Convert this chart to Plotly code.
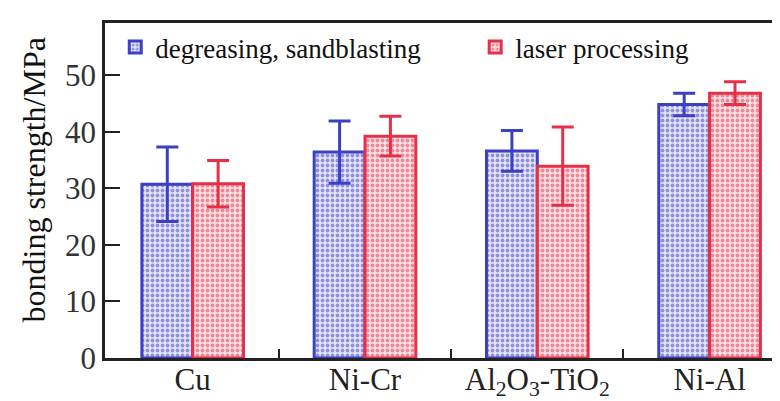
import plotly.graph_objects as go

categories = ["Cu", "Ni-Cr", "Al<sub>2</sub>O<sub>3</sub>-TiO<sub>2</sub>", "Ni-Al"]
degrease_vals = [30.7, 36.4, 36.6, 44.8]
degrease_err = [6.6, 5.5, 3.6, 2.0]
laser_vals = [30.8, 39.2, 33.9, 46.8]
laser_err = [4.1, 3.5, 6.9, 2.0]
y_ticks = [0, 10, 20, 30, 40, 50]

BLUE = "#3d40c2"
RED = "#e6304a"
SERIF = "Liberation Serif"

xpos = list(range(len(categories)))

fig = go.Figure()
fig.add_trace(go.Bar(
    x=xpos, y=degrease_vals, name="degreasing, sandblasting", legend="legend",
    error_y=dict(type="data", array=degrease_err, color=BLUE, thickness=3, width=11),
    marker=dict(color="white", line=dict(color=BLUE, width=3),
                pattern=dict(shape=".", fgcolor=BLUE, bgcolor="#e4e4f6", size=5, solidity=0.45)),
))
fig.add_trace(go.Bar(
    x=xpos, y=laser_vals, name="laser processing", legend="legend2",
    error_y=dict(type="data", array=laser_err, color=RED, thickness=3, width=11),
    marker=dict(color="white", line=dict(color=RED, width=3),
                pattern=dict(shape=".", fgcolor=RED, bgcolor="#f8e1e4", size=5, solidity=0.45)),
))

legend_font = dict(family=SERIF, size=27, color="#111111")
fig.update_layout(
    width=780, height=401,
    margin=dict(l=97, r=0, t=15, b=51),
    paper_bgcolor="white", plot_bgcolor="white",
    barmode="group", bargap=0.41, bargroupgap=0,
    font=dict(family=SERIF, color="#222222"),
    showlegend=True,
    legend=dict(x=0.015, y=1.0, xanchor="left", yanchor="top",
                font=legend_font, bgcolor="rgba(0,0,0,0)"),
    legend2=dict(x=0.542, y=1.0, xanchor="left", yanchor="top",
                 font=legend_font, bgcolor="rgba(0,0,0,0)"),
    xaxis=dict(range=[-0.509, 3.455], tickvals=xpos, ticktext=categories,
               ticks="", showline=True, linecolor="#222222", linewidth=2.5, mirror=True,
               showgrid=False, zeroline=False, ticklabelstandoff=-8,
               tickfont=dict(family=SERIF, size=31, color="#222222"),
               minor=dict(tickvals=[0.5, 1.5, 2.5], ticks="inside", ticklen=9,
                          tickwidth=2, tickcolor="#222222", showgrid=False)),
    yaxis=dict(range=[0, 59.2], tickvals=y_ticks, ticks="inside", ticklen=15, tickwidth=2,
               tickcolor="#222222", showline=True, linecolor="#222222", linewidth=2.5,
               showgrid=False, zeroline=False,
               tickfont=dict(family=SERIF, size=31, color="#333333")),
    annotations=[dict(text="bonding strength/MPa", textangle=-90, showarrow=False,
                      xref="paper", yref="paper", x=-0.104, y=0.533,
                      xanchor="center", yanchor="middle",
                      font=dict(family=SERIF, size=32, color="#111111"))],
)

fig.write_html("out.html")
